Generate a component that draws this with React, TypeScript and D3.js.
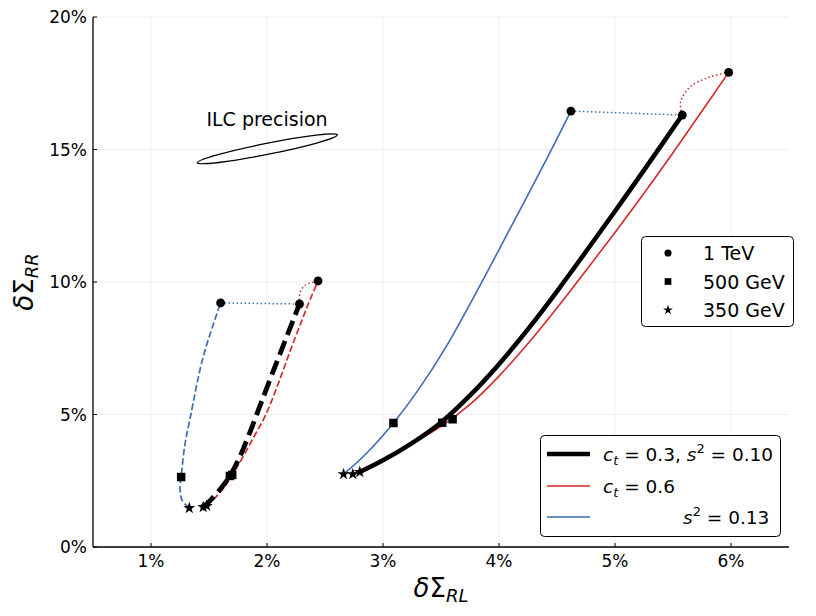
import * as d3 from "d3";

type Pt = [number, number];

const xTicks = [1, 2, 3, 4, 5, 6];
const yTicks = [0, 5, 10, 15, 20];

// right group: solid lines (values in %)
const blackSolid: Pt[] = [
  [2.8, 2.83], [3.0, 3.27], [3.25, 3.92], [3.5, 4.7], [3.75, 5.72], [4.0, 6.9],
  [4.25, 8.22], [4.5, 9.65], [4.75, 11.15], [5.0, 12.67], [5.25, 14.22], [5.58, 16.3],
];
const redSolid: Pt[] = [
  [2.74, 2.75], [3.0, 3.3], [3.25, 3.9], [3.5, 4.55], [3.75, 5.38], [4.0, 6.45],
  [4.25, 7.68], [4.5, 9.02], [4.75, 10.43], [5.0, 11.87], [5.25, 13.35], [5.5, 14.88],
  [5.75, 16.45], [5.98, 17.91],
];
const blueSolid: Pt[] = [
  [2.66, 2.75], [2.85, 3.5], [3.09, 4.68], [3.3, 5.9], [3.55, 7.6],
  [3.84, 9.9], [4.1, 12.05], [4.4, 14.55], [4.62, 16.45],
];

// left group: dashed lines
const blackDashed: Pt[] = [
  [1.45, 1.51], [1.52, 1.8], [1.6, 2.2], [1.68, 2.68], [1.76, 3.35], [1.85, 4.3],
  [1.95, 5.45], [2.08, 6.93], [2.18, 8.05], [2.28, 9.17],
];
const redDashed: Pt[] = [
  [1.48, 1.55], [1.55, 1.85], [1.63, 2.25], [1.7, 2.72], [1.78, 3.3], [1.88, 4.1],
  [1.99, 5.0], [2.1, 6.2], [2.2, 7.4], [2.3, 8.55], [2.37, 9.32], [2.44, 10.04],
];
const blueDashed: Pt[] = [
  [1.33, 1.47], [1.27, 1.75], [1.25, 2.2], [1.26, 2.64], [1.29, 3.8],
  [1.34, 4.92], [1.45, 7.18], [1.6, 9.21],
];

// dotted connectors between the 1 TeV points
const blueDotLeft: Pt[] = [[1.6, 9.21], [2.28, 9.17]];
const redDotLeft: Pt[] = [[2.28, 9.17], [2.285, 9.6], [2.33, 9.88], [2.44, 10.04]];
const blueDotRight: Pt[] = [[4.62, 16.45], [5.58, 16.3]];
const redDotRight: Pt[] = [[5.58, 16.3], [5.565, 16.8], [5.65, 17.37], [5.82, 17.74], [5.98, 17.91]];

const tevPoints: Pt[] = [[1.6, 9.21], [2.28, 9.17], [2.44, 10.04], [4.62, 16.45], [5.58, 16.3], [5.98, 17.91]];
const gev500Points: Pt[] = [[1.26, 2.64], [1.68, 2.68], [1.7, 2.72], [3.09, 4.68], [3.51, 4.69], [3.6, 4.82]];
const gev350Points: Pt[] = [[1.33, 1.47], [1.45, 1.51], [1.48, 1.55], [2.66, 2.75], [2.74, 2.75], [2.8, 2.83]];

// ILC precision ellipse: ends of the long axis
const ellipseEnds: Pt[] = [[1.4, 14.5], [2.606, 15.55]];

const RED = "#d42a2a";
const BLUE = "#3b6cb4";
const FONT = "DejaVu Sans, sans-serif";

const W = 816;
const H = 616;
const left = 93, right = 789, top = 17, bottom = 547;

const App = () => {
  const x = d3.scaleLinear().domain([0.5, 6.5]).range([left, right]);
  const y = d3.scaleLinear().domain([0, 20]).range([bottom, top]);

  const line = d3
    .line<Pt>()
    .x((d) => x(d[0]))
    .y((d) => y(d[1]))
    .curve(d3.curveCatmullRom.alpha(0.5));

  const sym = (type: d3.SymbolType, size: number) => d3.symbol().type(type).size(size)()!;
  const circ = sym(d3.symbolCircle, 62);
  const sq = sym(d3.symbolSquare, 72);
  const star = sym(d3.symbolStar, 46);

  const [e0, e1] = ellipseEnds;
  const ex0 = x(e0[0]), ey0 = y(e0[1]), ex1 = x(e1[0]), ey1 = y(e1[1]);
  const ecx = (ex0 + ex1) / 2, ecy = (ey0 + ey1) / 2;
  const erx = Math.hypot(ex1 - ex0, ey1 - ey0) / 2;
  const eang = (Math.atan2(ey1 - ey0, ex1 - ex0) * 180) / Math.PI;

  const curves: { d: Pt[]; color: string; w: number; dash?: string }[] = [
    { d: blueSolid, color: BLUE, w: 1.6 },
    { d: redSolid, color: RED, w: 1.6 },
    { d: blackSolid, color: "#000", w: 4.6 },
    { d: blueDashed, color: BLUE, w: 1.7, dash: "6.5 2.8" },
    { d: redDashed, color: RED, w: 1.7, dash: "6.5 2.8" },
    { d: blackDashed, color: "#000", w: 4.8, dash: "15 6.5" },
    { d: blueDotLeft, color: BLUE, w: 1.5, dash: "1.5 2.5" },
    { d: redDotLeft, color: RED, w: 1.5, dash: "1.5 2.5" },
    { d: blueDotRight, color: BLUE, w: 1.5, dash: "1.5 2.5" },
    { d: redDotRight, color: RED, w: 1.5, dash: "1.5 2.5" },
  ];

  const markerLegend = [
    { label: "1 TeV", path: sym(d3.symbolCircle, 40) },
    { label: "500 GeV", path: sym(d3.symbolSquare, 45) },
    { label: "350 GeV", path: sym(d3.symbolStar, 30) },
  ];

  return (
    <svg
      width={W}
      height={H}
      style={{ position: "absolute", left: 0, top: 0, background: "#fff" }}
      fontFamily={FONT}
    >
      {/* grid */}
      {xTicks.map((t) => (
        <line key={"gx" + t} x1={x(t)} x2={x(t)} y1={top} y2={bottom} stroke="#ebebeb" strokeWidth={0.8} />
      ))}
      {yTicks.map((t) => (
        <line key={"gy" + t} x1={left} x2={right} y1={y(t)} y2={y(t)} stroke="#ebebeb" strokeWidth={0.8} />
      ))}

      {/* curves */}
      {curves.map((c, i) => (
        <path
          key={i}
          d={line(c.d)!}
          fill="none"
          stroke={c.color}
          strokeWidth={c.w}
          strokeDasharray={c.dash}
        />
      ))}

      {/* markers */}
      {tevPoints.map((p, i) => (
        <path key={"c" + i} d={circ} transform={`translate(${x(p[0])},${y(p[1])})`} fill="#000" />
      ))}
      {gev500Points.map((p, i) => (
        <path key={"s" + i} d={sq} transform={`translate(${x(p[0])},${y(p[1])})`} fill="#000" />
      ))}
      {gev350Points.map((p, i) => (
        <path key={"t" + i} d={star} transform={`translate(${x(p[0])},${y(p[1])})`} fill="#000" />
      ))}

      {/* ILC precision */}
      <ellipse
        cx={ecx}
        cy={ecy}
        rx={erx}
        ry={5.5}
        transform={`rotate(${eang},${ecx},${ecy})`}
        fill="none"
        stroke="#000"
        strokeWidth={1.3}
      />
      <text x={x(2.0)} y={y(15.9)} textAnchor="middle" fontSize={19}>
        ILC precision
      </text>

      {/* axes */}
      <line x1={left} x2={left} y1={top} y2={bottom} stroke="#000" strokeWidth={1.3} />
      <line x1={left} x2={right} y1={bottom} y2={bottom} stroke="#000" strokeWidth={1.3} />
      {xTicks.map((t) => (
        <g key={"tx" + t}>
          <line x1={x(t)} x2={x(t)} y1={bottom} y2={bottom - 4} stroke="#000" strokeWidth={1} />
          <text x={x(t)} y={bottom + 20} textAnchor="middle" fontSize={17}>
            {t}%
          </text>
        </g>
      ))}
      {yTicks.map((t) => (
        <g key={"ty" + t}>
          <line x1={left} x2={left + 4} y1={y(t)} y2={y(t)} stroke="#000" strokeWidth={1} />
          <text x={left - 6} y={y(t) + 6} textAnchor="end" fontSize={17}>
            {t}%
          </text>
        </g>
      ))}

      {/* axis labels */}
      <text x={(left + right) / 2} y={597} textAnchor="middle" fontSize={26}>
        <tspan fontStyle="italic">δ</tspan>Σ
        <tspan fontStyle="italic" fontSize={18} dy={5}>RL</tspan>
      </text>
      <text
        transform={`translate(33,${(top + bottom) / 2}) rotate(-90)`}
        textAnchor="middle"
        fontSize={26}
      >
        <tspan fontStyle="italic">δ</tspan>Σ
        <tspan fontStyle="italic" fontSize={18} dy={5}>RR</tspan>
      </text>

      {/* marker legend */}
      <rect x={641.5} y={236.5} width={152} height={90} rx={4} fill="#fff" stroke="#000" strokeWidth={1} />
      {markerLegend.map((m, i) => (
        <g key={m.label} transform={`translate(0,${253 + i * 28.5})`}>
          <path d={m.path} transform="translate(668,0)" fill="#000" />
          <text x={703} y={7} fontSize={19}>
            {m.label}
          </text>
        </g>
      ))}

      {/* line legend */}
      <rect x={540.5} y={435.5} width={240} height={101} rx={4} fill="#fff" stroke="#000" strokeWidth={1} />
      <line x1={547} x2={590} y1={454} y2={454} stroke="#000" strokeWidth={4.6} />
      <line x1={547} x2={590} y1={486} y2={486} stroke={RED} strokeWidth={1.6} />
      <line x1={547} x2={590} y1={517} y2={517} stroke={BLUE} strokeWidth={1.6} />
      <text x={603} y={461} fontSize={18.5}>
        <tspan fontStyle="italic">c</tspan>
        <tspan fontStyle="italic" fontSize={13} dy={4}>t</tspan>
        <tspan dy={-4}> = 0.3, </tspan>
        <tspan fontStyle="italic">s</tspan>
        <tspan fontSize={13} dy={-8}>2</tspan>
        <tspan dy={8}> = 0.10</tspan>
      </text>
      <text x={603} y={493} fontSize={18.5}>
        <tspan fontStyle="italic">c</tspan>
        <tspan fontStyle="italic" fontSize={13} dy={4}>t</tspan>
        <tspan dy={-4}> = 0.6</tspan>
      </text>
      <text x={683} y={524} fontSize={18.5}>
        <tspan fontStyle="italic">s</tspan>
        <tspan fontSize={13} dy={-8}>2</tspan>
        <tspan dy={8}> = 0.13</tspan>
      </text>
    </svg>
  );
};

export default App;
